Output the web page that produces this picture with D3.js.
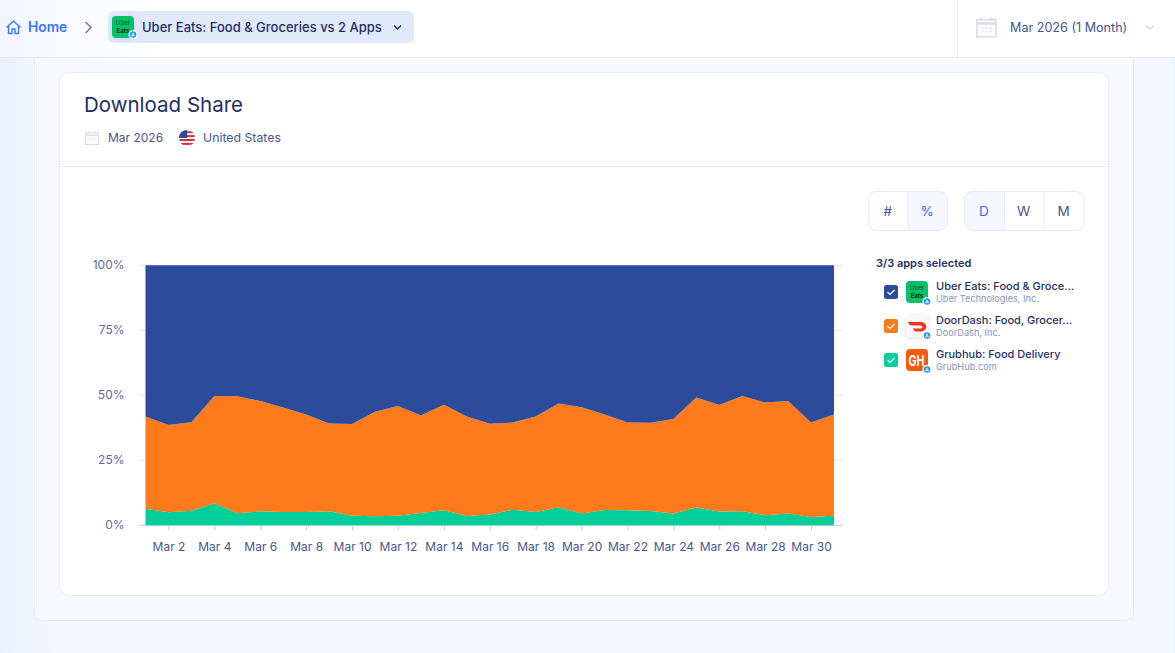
<!DOCTYPE html>
<html>
<head>
<meta charset="utf-8">
<script src="https://cdn.jsdelivr.net/npm/d3@7/dist/d3.min.js"></script>
<style>
html,body{margin:0;padding:0;background:#f5f7fe;overflow:hidden}
svg{display:block}
text{font-family:Inter,"Noto Sans",sans-serif}
</style>
</head>
<body>
<svg id="view" width="1175" height="653"></svg>
<script>
// Daily download share by app, March 2026, United States (percent)
const days = d3.range(1, 32);
const uberEats = [58.2,61.4,60.4,50.3,50.4,52.2,54.7,57.4,60.8,61.0,56.3,54.1,57.8,53.6,58.2,60.9,60.5,58.2,53.2,54.6,57.4,60.5,60.6,59.1,50.8,53.7,50.3,52.8,52.2,60.5,57.4];
const doorDash = [35.4,33.6,34.0,41.2,45.0,42.4,40.2,37.5,33.8,35.3,40.2,42.2,37.5,40.6,38.2,34.9,33.5,36.7,39.9,40.9,36.7,33.7,33.9,36.4,42.4,41.0,44.3,43.3,43.3,36.3,38.9];
const grubhub = [6.4,5.0,5.6,8.5,4.6,5.4,5.1,5.1,5.4,3.7,3.5,3.7,4.7,5.8,3.6,4.2,6.0,5.1,6.9,4.5,5.9,5.8,5.5,4.5,6.8,5.3,5.4,3.9,4.5,3.2,3.7];
const seriesKeys = ["grubhub", "doorDash", "uberEats"];
const seriesColors = {uberEats: "#2c4b9b", doorDash: "#ff7a1a", grubhub: "#00cf9a"};
const yTicks = [0, 25, 50, 75, 100];
const xTicks = d3.range(2, 31, 2);

const legendApps = [
  {name: "Uber Eats: Food & Groce…", maker: "Uber Technologies, Inc.", color: seriesColors.uberEats, y: 292},
  {name: "DoorDash: Food, Grocer…", maker: "DoorDash, Inc.", color: seriesColors.doorDash, y: 326},
  {name: "Grubhub: Food Delivery", maker: "GrubHub.com", color: seriesColors.grubhub, y: 360}
];

const ink = "#1f2f66", muted = "#44578f", soft = "#8793b8", line = "#e4ebf8", accent = "#3a76f6", activeBlue = "#2f6bf5";
const svg = d3.select("#view");
const defs = svg.append("defs");

const shade = defs.append("linearGradient").attr("id", "sideShade");
shade.append("stop").attr("offset", 0).attr("stop-color", "#ebf0fe");
shade.append("stop").attr("offset", 1).attr("stop-color", "#f5f7fe");
const headShade = defs.append("linearGradient").attr("id", "headShade");
headShade.append("stop").attr("offset", 0).attr("stop-color", "#f3f6ff");
headShade.append("stop").attr("offset", 0.14).attr("stop-color", "#ffffff");
const soften = defs.append("filter").attr("id", "softShadow").attr("x", "-50%").attr("y", "-50%").attr("width", "200%").attr("height", "200%");
soften.append("feDropShadow").attr("dx", 0).attr("dy", 1).attr("stdDeviation", 2.5).attr("flood-color", "#8fa3d0").attr("flood-opacity", 0.35);

function rect(parent, x, y, w, h, fill, stroke, r) {
  return parent.append("rect").attr("x", x).attr("y", y).attr("width", w).attr("height", h)
    .attr("fill", fill).attr("stroke", stroke || "none").attr("rx", r || 0);
}
function label(parent, x, y, str, size, fill, weight, anchor) {
  return parent.append("text").attr("x", x).attr("y", y).text(str)
    .attr("font-size", size).attr("fill", fill).attr("font-weight", weight || 400)
    .attr("text-anchor", anchor || "start");
}
function calendar(parent, x, y, s, color) {
  const g = parent.append("g").attr("transform", `translate(${x},${y}) scale(${s})`)
    .attr("fill", "none").attr("stroke", color).attr("stroke-width", 1.2);
  g.append("rect").attr("x", 0.6).attr("y", 1.8).attr("width", 12.8).attr("height", 11.6);
  g.append("path").attr("d", "M0.6 4.4H13.4M3.5 0.4V2.6M10.5 0.4V2.6").attr("stroke-width", 1.6);
  g.append("path").attr("d", "M3.6 7.4H5M6.4 7.4H7.8M9.2 7.4H10.6M3.6 10H5M6.4 10H7.8M9.2 10H10.6").attr("stroke-width", 1.1);
}
function storeBadge(parent, x, y) {
  parent.append("circle").attr("cx", x).attr("cy", y).attr("r", 4.6).attr("fill", "#fff");
  parent.append("circle").attr("cx", x).attr("cy", y).attr("r", 3.3).attr("fill", "#2f95f5");
  parent.append("path").attr("d", `M${x - 2} ${y + 1.1}H${x + 2}M${x - 1} ${y + 1.1}L${x} ${y - 1.6}L${x + 1} ${y + 1.1}`)
    .attr("stroke", "#fff").attr("stroke-width", 0.7).attr("fill", "none");
}
function uberIcon(parent, x, y, s) {
  rect(parent, x, y, s, s, "#06c167", null, 4);
  const size = s * 0.28;
  label(parent, x + s / 2, y + s * 0.43, "Uber", size, "#17452c", 400, "middle");
  label(parent, x + s / 2, y + s * 0.79, "Eats", size, "#061a10", 600, "middle");
}

// Page frame
rect(svg, 0, 58, 60, 595, "url(#sideShade)");
rect(svg, 34.5, 40, 1099, 580.5, "#f8f9ff", line, 8);
svg.append("line").attr("x1", 1174.5).attr("x2", 1174.5).attr("y1", 58).attr("y2", 653).attr("stroke", "#e9edf6");

// Top navigation bar
rect(svg, 0, 0, 1175, 57.5, "url(#headShade)");
svg.append("line").attr("x1", 0).attr("x2", 1175).attr("y1", 57.5).attr("y2", 57.5).attr("stroke", line);
svg.append("path").attr("d", "M6.5 27.5L13.5 21L20.5 27.5M8.5 26V33.5H12V29H15V33.5H18.5V26")
  .attr("fill", "none").attr("stroke", accent).attr("stroke-width", 1.4).attr("stroke-linejoin", "round");
label(svg, 28, 32, "Home", 13.8, accent, 600);
svg.append("path").attr("d", "M85.5 22L91 27.5L85.5 33").attr("fill", "none").attr("stroke", "#6f7fa8").attr("stroke-width", 1.6);
rect(svg, 108, 11, 306, 32, "#e1e9fb", null, 5);
const navIcon = svg.append("g").attr("filter", "url(#softShadow)");
uberIcon(navIcon, 112, 16, 22);
storeBadge(svg, 133, 34.5);
label(svg, 142, 32, "Uber Eats: Food & Groceries vs 2 Apps", 13, ink, 500);
svg.append("path").attr("d", "M394 25.5L397.5 29L401 25.5").attr("fill", "none").attr("stroke", ink).attr("stroke-width", 1.4);
svg.append("line").attr("x1", 957.5).attr("x2", 957.5).attr("y1", 0).attr("y2", 57).attr("stroke", line);
calendar(svg, 976, 17, 1.48, "#d9deeb");
label(svg, 1010, 32, "Mar 2026 (1 Month)", 12.6, muted, 400);
svg.append("path").attr("d", "M1146 25.5L1150 29L1154 25.5").attr("fill", "none").attr("stroke", "#ccd3e4").attr("stroke-width", 1.1);

// Card
rect(svg, 59.5, 72.5, 1049, 523, "#fff", line, 10);
label(svg, 84, 112, "Download Share", 20.5, ink, 400);
calendar(svg, 85, 131, 1, "#d9deeb");
label(svg, 108, 142, "Mar 2026", 12, muted);
label(svg, 203, 142, "United States", 12.3, muted);

// Round US flag
const clip = defs.append("clipPath").attr("id", "flagClip");
clip.append("circle").attr("cx", 187).attr("cy", 138).attr("r", 8);
const flag = svg.append("g").attr("clip-path", "url(#flagClip)");
rect(flag, 179, 130, 16, 16, "#fff");
d3.range(0, 4).forEach(i => rect(flag, 179, 131.2 + i * 3.9, 16, 2, "#dc2c3f"));
rect(flag, 179, 130, 8, 8, "#2b4a9c");

svg.append("line").attr("x1", 60).attr("x2", 1108).attr("y1", 166.5).attr("y2", 166.5).attr("stroke", line);

// Toggle groups
function toggle(x, w, items, activeIndex) {
  const n = items.length, cell = w / n;
  const g = svg.append("g");
  const outline = rect(g, x + 0.5, 191.5, w, 39, "#fff", line, 8);
  g.append("path")
    .attr("d", activeIndex === 0
      ? `M${x + cell} 192H${x + 8.5}a8 8 0 0 0 -8 8V222.5a8 8 0 0 0 8 8H${x + cell}Z`
      : `M${x + cell * activeIndex} 192H${x + w - 7.5}a8 8 0 0 1 8 8V222.5a8 8 0 0 1 -8 8H${x + cell * activeIndex}Z`)
    .attr("fill", "#f4f7fe");
  items.forEach((t, i) => {
    if (i > 0) g.append("line").attr("x1", x + cell * i + 0.5).attr("x2", x + cell * i + 0.5).attr("y1", 192).attr("y2", 230).attr("stroke", line);
    label(g, x + cell * i + cell / 2, 216, t, 13.5, i === activeIndex ? activeBlue : muted, 400, "middle");
  });
  outline.raise().attr("fill", "none");
}
toggle(868, 79, ["#", "%"], 1);
toggle(964, 119.5, ["D", "W", "M"], 0);

// Legend
label(svg, 876, 267, "3/3 apps selected", 11, ink, 600);
legendApps.forEach((app, i) => {
  const g = svg.append("g");
  rect(g, 884, app.y - 7, 14, 14, app.color, null, 2.5);
  g.append("path").attr("d", `M${887.5} ${app.y}L${890} ${app.y + 2.4}L${894.5} ${app.y - 2}`)
    .attr("fill", "none").attr("stroke", "#fff").attr("stroke-width", 1.3);
  const ix = 906, iy = app.y - 11;
  if (i === 0) uberIcon(g, ix, iy, 22);
  if (i === 1) {
    rect(g, ix, iy, 22, 22, "#f8f8fa", null, 4).attr("filter", "url(#softShadow)");
    g.append("path").attr("d", `M${ix + 1.5} ${iy + 7}H${ix + 14.5}C${ix + 22} ${iy + 7} ${ix + 22.5} ${iy + 16.5} ${ix + 14.5} ${iy + 16.5}H${ix + 9}L${ix + 6.5} ${iy + 13.5}H${ix + 14.5}C${ix + 17} ${iy + 13.5} ${ix + 17} ${iy + 10.5} ${ix + 14.5} ${iy + 10.5}H${ix + 4.5}Z`).attr("fill", "#f0321f");
  }
  if (i === 2) {
    rect(g, ix, iy, 22, 22, "#f8590d", null, 4);
    label(g, ix + 10.5, iy + 16.5, "GH", 15, "#fff", 700, "middle")
      .attr("textLength", 16).attr("lengthAdjust", "spacingAndGlyphs");
  }
  storeBadge(g, ix + 21, iy + 20.5);
  label(g, 936, app.y - 2.5, app.name, 11, ink, 500);
  label(g, 936, app.y + 9.5, app.maker, 9.2, soft);
});

// Stacked area chart
const x = d3.scaleLinear().domain([1, 31]).range([145.5, 834]);
const y = d3.scaleLinear().domain([0, 100]).range([525.3, 265.3]);
const rows = days.map((d, i) => ({day: d, uberEats: uberEats[i], doorDash: doorDash[i], grubhub: grubhub[i]}));
const stacked = d3.stack().keys(seriesKeys).offset(d3.stackOffsetExpand)(rows);

const yAxis = svg.append("g").attr("transform", "translate(145.5,-0.8)")
  .call(d3.axisLeft(y).tickValues(yTicks).tickFormat(d => d + "%").tickSize(0).tickPadding(21));
yAxis.select(".domain").remove();
yAxis.selectAll("text").attr("font-size", 12).attr("fill", "#5b6b98").style("font-family", "Inter,sans-serif");
yTicks.forEach(t => {
  svg.append("line").attr("x1", 139).attr("x2", 843).attr("y1", y(t)).attr("y2", y(t))
    .attr("stroke", t === 0 ? "#c3cbe0" : line).attr("stroke-width", 1);
});

const area = d3.area()
  .x(d => x(d.data.day))
  .y0(d => y(d[0] * 100))
  .y1(d => y(d[1] * 100));
svg.append("g").selectAll("path").data(stacked).join("path")
  .attr("d", area)
  .attr("fill", d => seriesColors[d.key]);

const xAxis = svg.append("g").attr("transform", "translate(0,525.3)")
  .call(d3.axisBottom(x).tickValues(xTicks).tickFormat(d => "Mar " + d).tickSize(5).tickPadding(12.5));
xAxis.select(".domain").remove();
xAxis.selectAll("line").attr("stroke", "#c3cbe0");
xAxis.selectAll("text").attr("font-size", 12).attr("fill", muted).style("font-family", "Inter,sans-serif");
</script>
</body>
</html>
